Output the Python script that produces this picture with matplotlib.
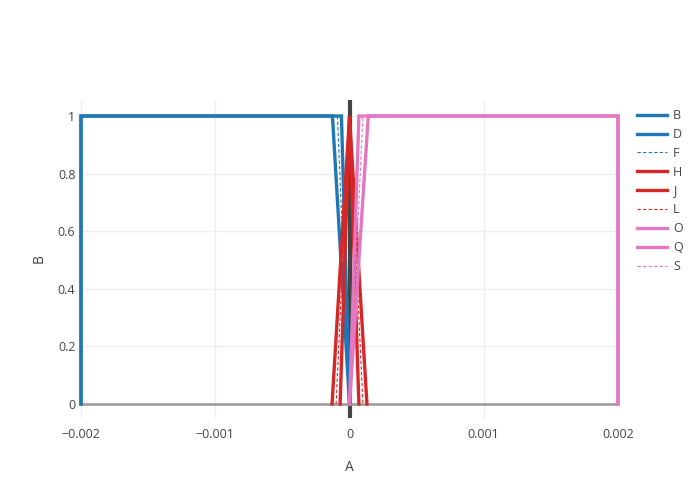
import matplotlib
matplotlib.use('Agg')
import matplotlib.pyplot as plt

plt.rcParams['font.family'] = ['Open Sans', 'DejaVu Sans']

# 数据
names = ['B', 'D', 'F', 'H', 'J', 'L', 'O', 'Q', 'S']
xs = [
    [-0.002, -0.002, -0.000127, 0.0],
    [-0.002, -0.002, -0.00006, 0.0],
    [-0.002, -0.002, -0.00009, 0.0],
    [-0.00013, 0.0, 0.00013],
    [-0.00007, 0.0, 0.00007],
    [-0.0001, 0.0, 0.0001],
    [0.0, 0.00007, 0.002, 0.002],
    [0.0, 0.00014, 0.002, 0.002],
    [0.0, 0.0001, 0.002, 0.002],
]
ys = [
    [0, 1, 1, 0],
    [0, 1, 1, 0],
    [0, 1, 1, 0],
    [0, 1, 0],
    [0, 1, 0],
    [0, 1, 0],
    [0, 1, 1, 0],
    [0, 1, 1, 0],
    [0, 1, 1, 0],
]
colors = ['#1f77b4'] * 3 + ['#d62728'] * 3 + ['#e377c2'] * 3
styles = ['-', '-', '--'] * 3

xticks = [-0.002, -0.001, 0, 0.001, 0.002]
xticklabels = ['\u22120.002', '\u22120.001', '0', '0.001', '0.002']
yticks = [0, 0.2, 0.4, 0.6, 0.8, 1]
yticklabels = ['0', '0.2', '0.4', '0.6', '0.8', '1']

fig = plt.figure(figsize=(7, 5), dpi=100)
ax = fig.add_axes([81 / 700, 1 - 418 / 500, 537 / 700, 318 / 500])

for x, y, c, s, n in zip(xs, ys, colors, styles, names):
    lw = 2.4 if s == '-' else 0.8
    ax.plot(x, y, color=c, linestyle=s, linewidth=lw, label=n, zorder=3,
            solid_joinstyle='miter', clip_on=False,
            dashes=(3, 2) if s == '--' else (None, None))

# 零线
ax.axvline(0, color='#444444', linewidth=3, zorder=2)
ax.axhline(0, color='#999999', linewidth=1.8, zorder=2)

ax.set_xlim(-0.002, 0.002)
ax.set_ylim(-0.0486, 1.0556)
ax.set_xticks(xticks)
ax.set_xticklabels(xticklabels)
ax.set_yticks(yticks)
ax.set_yticklabels(yticklabels)
ax.tick_params(length=0, labelsize=9, labelcolor='#444444')
ax.tick_params(axis='x', pad=7)
ax.tick_params(axis='y', pad=4)
ax.grid(color='#eeeeee', linewidth=1, zorder=0)
ax.set_axisbelow(True)
for sp in ax.spines.values():
    sp.set_visible(False)

ax.set_xlabel('A', fontsize=10, color='#444444', labelpad=14)
ax.set_ylabel('B', fontsize=10, color='#444444', labelpad=8)

fig.legend(loc='upper left', bbox_to_anchor=(632 / 700, 1 - 104 / 500),
           frameon=False, fontsize=9, handlelength=2.4, handletextpad=0.5,
           labelspacing=0.47, borderaxespad=0, labelcolor='#444444')

fig.savefig('out.png', dpi=100)
